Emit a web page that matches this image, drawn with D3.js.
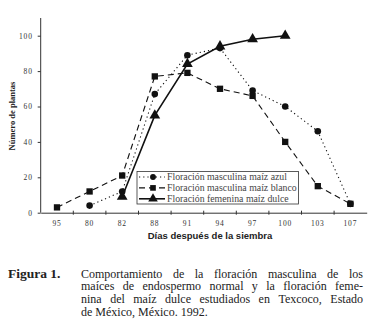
<!DOCTYPE html>
<html>
<head>
<meta charset="utf-8">
<script src="https://cdn.jsdelivr.net/npm/d3@7"></script>
<style>
  body { margin: 0; background: #fff; }
  svg { display: block; }
</style>
</head>
<body>
<div id="chart"></div>
<script>
// Chart data
const days = ['95', '80', '82', '88', '91', '94', '97', '100', '103', '107'];
const azulDays = ['80', '82', '88', '91', '94', '97', '100', '103', '107'];
const azulValues = [4, 12, 67, 89, 93, 69, 60, 46, 5];
const blancoDays = ['95', '80', '82', '88', '91', '94', '97', '100', '103', '107'];
const blancoValues = [3, 12, 21, 77, 79, 70, 66, 40, 15, 5];
const dulceDays = ['82', '88', '91', '94', '97', '100'];
const dulceValues = [9, 55, 84, 94, 98, 100];
const yTicks = [0, 20, 40, 60, 80, 100];
const legendLabels = [
    'Floración masculina maíz azul',
    'Floración masculina maíz blanco',
    'Floración femenina maíz dulce'
];
const captionLines = [
    'Comportamiento de la floración masculina de los',
    'maíces de endospermo normal y la floración feme-',
    'nina del maíz dulce estudiados en Texcoco, Estado',
    'de México, México. 1992.'
];

const width = 375, height = 335;
const svg = d3.select('#chart').append('svg')
    .attr('width', width)
    .attr('height', height);

const x = d3.scaleBand().domain(days).range([40.7, 366.7]);
const y = d3.scaleLinear().domain([0, 110]).range([212.7, 18]);
const cx = d => x(d) + x.bandwidth() / 2;

const ink = '#111';

// Y axis
const yAxis = svg.append('g')
    .attr('transform', 'translate(40.7,0)')
    .call(d3.axisLeft(y).tickValues(yTicks).tickSize(3).tickPadding(5));
yAxis.select('.domain').attr('stroke', '#333').attr('d', `M0,${y(110)}V${y(0)}`);
yAxis.selectAll('.tick line').attr('stroke', '#333');
yAxis.selectAll('.tick text')
    .attr('font-family', 'Liberation Serif, serif')
    .attr('font-size', 7.5)
    .attr('letter-spacing', 0.8)
    .attr('fill', '#333');

// X axis
const xAxis = svg.append('g')
    .attr('transform', `translate(0,${y(0)})`)
    .call(d3.axisBottom(x).tickSize(0).tickPadding(8));
xAxis.select('.domain').attr('stroke', '#333');
xAxis.selectAll('.tick text')
    .attr('font-family', 'Liberation Serif, serif')
    .attr('font-size', 7.5)
    .attr('letter-spacing', 0.8)
    .attr('fill', '#333');
// band boundary ticks
xAxis.selectAll('.bound')
    .data(days.slice(1))
    .join('line')
    .attr('x1', d => x(d)).attr('x2', d => x(d))
    .attr('y1', -2).attr('y2', 2)
    .attr('stroke', '#333');

// Axis titles
svg.append('text')
    .attr('transform', 'translate(14.5,116) rotate(-90)')
    .attr('text-anchor', 'middle')
    .attr('font-family', 'Liberation Serif, serif')
    .attr('font-weight', 'bold')
    .attr('font-size', 8.5)
    .attr('fill', '#222')
    .text('Número de plantas');

svg.append('text')
    .attr('x', 210).attr('y', 239)
    .attr('text-anchor', 'middle')
    .attr('font-family', 'Liberation Sans, Arial, sans-serif')
    .attr('font-weight', 'bold')
    .attr('font-size', 9.5)
    .attr('fill', '#222')
    .text('Días después de la siembra');

// Series
const series = [
    {days: azulDays, values: azulValues, dash: '1.2,3', width: 1.1, symbol: d3.symbolCircle, size: 34},
    {days: blancoDays, values: blancoValues, dash: '6,4', width: 1.1, symbol: d3.symbolSquare, size: 40},
    {days: dulceDays, values: dulceValues, dash: null, width: 1.6, symbol: d3.symbolTriangle, size: 50}
];

const line = d3.line().x(p => cx(p[0])).y(p => y(p[1]));

series.forEach(s => {
    const pts = s.days.map((d, i) => [d, s.values[i]]);
    svg.append('path')
        .datum(pts)
        .attr('d', line)
        .attr('fill', 'none')
        .attr('stroke', ink)
        .attr('stroke-width', s.width)
        .attr('stroke-dasharray', s.dash);
    svg.selectAll(null)
        .data(pts)
        .join('path')
        .attr('transform', p => `translate(${cx(p[0])},${y(p[1])})`)
        .attr('d', d3.symbol().type(s.symbol).size(s.size))
        .attr('fill', ink);
});

// Legend
const legend = svg.append('g').attr('transform', 'translate(137,171.5)');
legend.append('rect')
    .attr('width', 161.5).attr('height', 32.5)
    .attr('fill', '#fff')
    .attr('stroke', '#333')
    .attr('stroke-width', 0.8);
series.forEach((s, i) => {
    const ly = 5.5 + i * 10.9;
    legend.append('line')
        .attr('x1', 2).attr('x2', 28)
        .attr('y1', ly).attr('y2', ly)
        .attr('stroke', ink)
        .attr('stroke-width', s.width)
        .attr('stroke-dasharray', s.dash);
    legend.append('path')
        .attr('transform', `translate(16,${ly})`)
        .attr('d', d3.symbol().type(s.symbol).size(s.size * 0.8))
        .attr('fill', ink);
    legend.append('text')
        .attr('x', 30).attr('y', ly + 3.2)
        .attr('font-family', 'Liberation Serif, serif')
        .attr('font-size', 9.8)
        .attr('fill', '#444')
        .text(legendLabels[i]);
});

// Caption
svg.append('text')
    .attr('x', 8).attr('y', 277.5)
    .attr('font-family', 'Liberation Serif, serif')
    .attr('font-weight', 'bold')
    .attr('font-size', 13.5)
    .attr('fill', '#222')
    .text('Figura 1.');

const capLeft = 81, capRight = 363;
captionLines.forEach((ln, i) => {
    const g = svg.append('text')
        .attr('y', 277.5 + i * 12.9)
        .attr('font-family', 'Liberation Serif, serif')
        .attr('font-size', 12)
        .attr('fill', '#222');
    const words = ln.split(' ');
    if (i === captionLines.length - 1) {
        g.attr('x', capLeft).text(ln);
        return;
    }
    // justify by spreading words across the line
    const spans = words.map(w => g.append('tspan').text(w));
    const widths = spans.map(sp => sp.node().getComputedTextLength());
    const gap = (capRight - capLeft - d3.sum(widths)) / (words.length - 1);
    let pos = capLeft;
    spans.forEach((sp, k) => {
        sp.attr('x', pos);
        pos += widths[k] + gap;
    });
});
</script>
</body>
</html>
